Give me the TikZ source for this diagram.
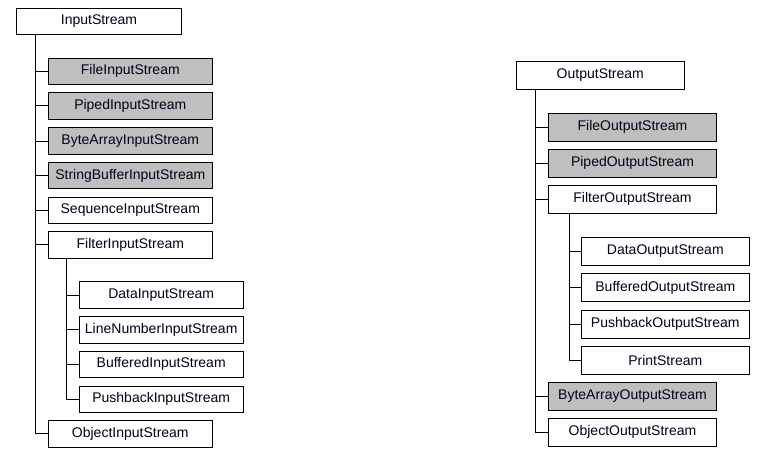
\documentclass[tikz,border=0pt]{standalone}
\usepackage{fontspec}
\setmainfont{Liberation Sans}
\begin{document}
\begin{tikzpicture}[x=1pt,y=-1pt,
  box/.style={draw=black,line width=0.9pt,fill=white,inner sep=0pt,minimum height=26.5pt,font=\fontsize{14}{16}\selectfont,text=black!90!blue},
  gbox/.style={box,fill=gray!50},
  lw/.style={minimum width=164pt},
  rw/.style={minimum width=168pt,minimum height=28pt},
  conn/.style={draw=black,line width=0.9pt}]
\useasboundingbox (0,0) rectangle (773,457);
% left tree
\node[box,minimum width=165.4pt] (in) at (99,21.3) {InputStream};
\node[gbox,lw] (fin) at (130.3,71.3) {FileInputStream};
\node[gbox,lw] (pin) at (130.3,105.8) {PipedInputStream};
\node[gbox,lw] (bin) at (130.3,141) {ByteArrayInputStream};
\node[gbox,lw] (sbin) at (130.3,175.5) {StringBufferInputStream};
\node[box,lw] (sqin) at (130.3,210.5) {SequenceInputStream};
\node[box,lw] (flin) at (130.3,244.7) {FilterInputStream};
\node[box,lw] (din) at (161.2,295) {DataInputStream};
\node[box,lw] (lnin) at (161.2,329.7) {LineNumberInputStream};
\node[box,lw] (buin) at (161.2,364.2) {BufferedInputStream};
\node[box,lw] (pbin) at (161.2,399.3) {PushbackInputStream};
\node[box,lw] (obin) at (130.3,433.7) {ObjectInputStream};
\foreach \c in {fin,pin,bin,sbin,sqin,flin,obin}
  \draw[conn] ([xshift=19.7pt]in.south west) |- (\c.west);
\foreach \c in {din,lnin,buin,pbin}
  \draw[conn] ([xshift=19pt]flin.south west) |- (\c.west);
% right tree
\node[box,rw] (out) at (600.3,75.2) {OutputStream};
\node[gbox,rw] (fout) at (632.5,127.2) {FileOutputStream};
\node[gbox,rw] (pout) at (632.5,163.3) {PipedOutputStream};
\node[box,rw] (flout) at (632.5,199.3) {FilterOutputStream};
\node[box,rw] (dout) at (665.3,251.2) {DataOutputStream};
\node[box,rw] (buout) at (665.3,287.8) {BufferedOutputStream};
\node[box,rw] (pbout) at (665.3,324.3) {PushbackOutputStream};
\node[box,rw] (prout) at (665.3,360.3) {PrintStream};
\node[gbox,rw] (bout) at (632.5,396.2) {ByteArrayOutputStream};
\node[box,rw] (obout) at (632.5,432.2) {ObjectOutputStream};
\foreach \c in {fout,pout,flout,bout,obout}
  \draw[conn] ([xshift=19.7pt]out.south west) |- (\c.west);
\foreach \c in {dout,buout,pbout,prout}
  \draw[conn] ([xshift=21pt]flout.south west) |- (\c.west);
\end{tikzpicture}
\end{document}
